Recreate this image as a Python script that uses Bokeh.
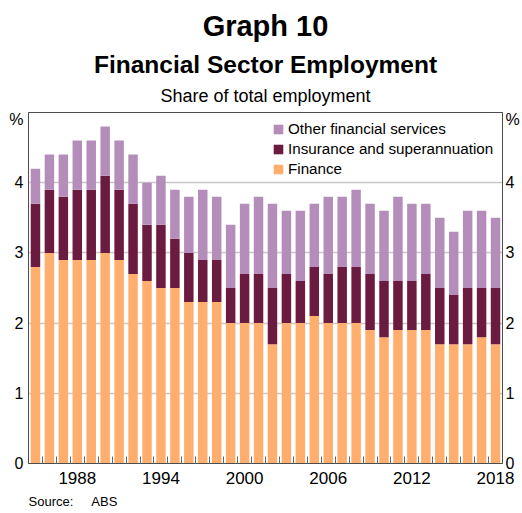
from bokeh.plotting import figure
from bokeh.models import (FixedTicker, LinearAxis, Title, Legend, LegendItem,
                          Range1d, CustomJSTickFormatter, ColumnDataSource)
from bokeh.embed import file_html
from bokeh.resources import INLINE

years = list(range(1985, 2019))
finance = [2.8, 3.0, 2.9, 2.9, 2.9, 3.0, 2.9, 2.7, 2.6, 2.5,
           2.5, 2.3, 2.3, 2.3, 2.0, 2.0, 2.0, 1.7, 2.0, 2.0,
           2.1, 2.0, 2.0, 2.0, 1.9, 1.8, 1.9, 1.9, 1.9, 1.7,
           1.7, 1.7, 1.8, 1.7]
insurance = [0.9, 0.9, 0.9, 1.0, 1.0, 1.1, 1.0, 1.0, 0.8, 0.9,
             0.7, 0.7, 0.6, 0.6, 0.5, 0.7, 0.7, 0.8, 0.7, 0.6,
             0.7, 0.7, 0.8, 0.8, 0.8, 0.8, 0.7, 0.7, 0.8, 0.8,
             0.7, 0.8, 0.7, 0.8]
other = [0.5, 0.5, 0.6, 0.7, 0.7, 0.7, 0.7, 0.7, 0.6, 0.7,
         0.7, 0.8, 1.0, 0.9, 0.9, 1.0, 1.1, 1.2, 0.9, 1.0,
         0.9, 1.1, 1.0, 1.1, 1.0, 1.0, 1.2, 1.1, 1.0, 1.0,
         0.9, 1.1, 1.1, 1.0]
tick_years = [1988, 1994, 2000, 2006, 2012, 2018]
y_ticks = [0, 1, 2, 3, 4]
series_names = ["Finance", "Insurance and superannuation", "Other financial services"]
colors = ["#FFAE6E", "#6B1A40", "#B48DBA"]

FONT = "Liberation Sans"

src = ColumnDataSource(dict(year=years, finance=finance, insurance=insurance, other=other))

p = figure(width=522, height=513, x_range=Range1d(1984.5, 2018.5), y_range=Range1d(0, 5),
           output_backend="svg", toolbar_location=None, title=None,
           min_border_left=28, min_border_right=16, min_border_top=0, min_border_bottom=0)

t1 = Title(text="Share of total employment", align="center", text_font=FONT,
           text_font_size="18px", text_font_style="normal", text_color="black", standoff=13)
p.add_layout(t1, "above")
t2 = Title(text="Financial Sector Employment", align="center", text_font=FONT,
           text_font_size="24.5px", text_font_style="bold", text_color="black",
           text_line_height=0.85, standoff=0)
p.add_layout(t2, "above")
t3 = Title(text="Graph 10", align="center", text_font=FONT,
           text_font_size="29px", text_font_style="bold", text_color="black", standoff=14)
p.add_layout(t3, "above")

renderers = p.vbar_stack(["finance", "insurance", "other"], x="year", width=0.68,
                         color=colors, line_color=None, source=src)

legend = Legend(items=[LegendItem(label=series_names[2], renderers=[renderers[2]]),
                       LegendItem(label=series_names[1], renderers=[renderers[1]]),
                       LegendItem(label=series_names[0], renderers=[renderers[0]])],
                location=(240, 282))
legend.label_text_font = FONT
legend.label_text_font_size = "15.2px"
legend.label_text_color = "black"
legend.glyph_width = 12
legend.glyph_height = 12
legend.label_height = 15
legend.label_standoff = 4
legend.spacing = 3
legend.padding = 4
legend.margin = 0
legend.border_line_alpha = 0
legend.background_fill_color = "white"
legend.background_fill_alpha = 1
p.add_layout(legend)

minor = [years[0] - 0.5 + i for i in range(len(years) + 1)]
xa = p.xaxis[0]
xa.ticker = FixedTicker(ticks=tick_years, minor_ticks=minor)
xa.major_tick_in = 0
xa.major_tick_out = 0
xa.minor_tick_in = 7
xa.minor_tick_out = 0
xa.minor_tick_line_color = "#666666"
xa.axis_line_color = "#4d4d4d"
xa.major_label_text_font = FONT
xa.major_label_text_font_size = "17px"
xa.major_label_text_color = "black"
xa.major_label_standoff = 8

fmt_code = "return tick > 4.5 ? '%' : tick.toFixed(0);"
yticks_all = y_ticks + [4.9]

def style_y(ax, standoff):
    ax.ticker = FixedTicker(ticks=yticks_all)
    ax.formatter = CustomJSTickFormatter(code=fmt_code)
    ax.major_tick_in = 0
    ax.major_tick_out = 0
    ax.minor_tick_in = 0
    ax.minor_tick_out = 0
    ax.axis_line_color = "#4d4d4d"
    ax.major_label_text_font = FONT
    ax.major_label_text_font_size = "16px"
    ax.major_label_text_color = "black"
    ax.major_label_standoff = standoff

style_y(p.yaxis[0], 5)
ra = LinearAxis()
style_y(ra, 3)
p.add_layout(ra, "right")

p.xgrid.visible = False
p.ygrid.ticker = FixedTicker(ticks=[1, 2, 3, 4])
p.ygrid.grid_line_color = "#c8c8c8"
p.ygrid.grid_line_width = 1.5

p.outline_line_color = "#4d4d4d"
p.outline_line_width = 1
p.background_fill_color = "white"
p.border_fill_color = "white"

src_title = Title(text="Source:\u00a0\u00a0\u00a0\u00a0\u00a0ABS", align="left", text_font=FONT,
                  text_font_size="13px", text_font_style="normal", text_color="black", standoff=10)
p.add_layout(src_title, "below")

open("out.html", "w").write(file_html(p, INLINE))
